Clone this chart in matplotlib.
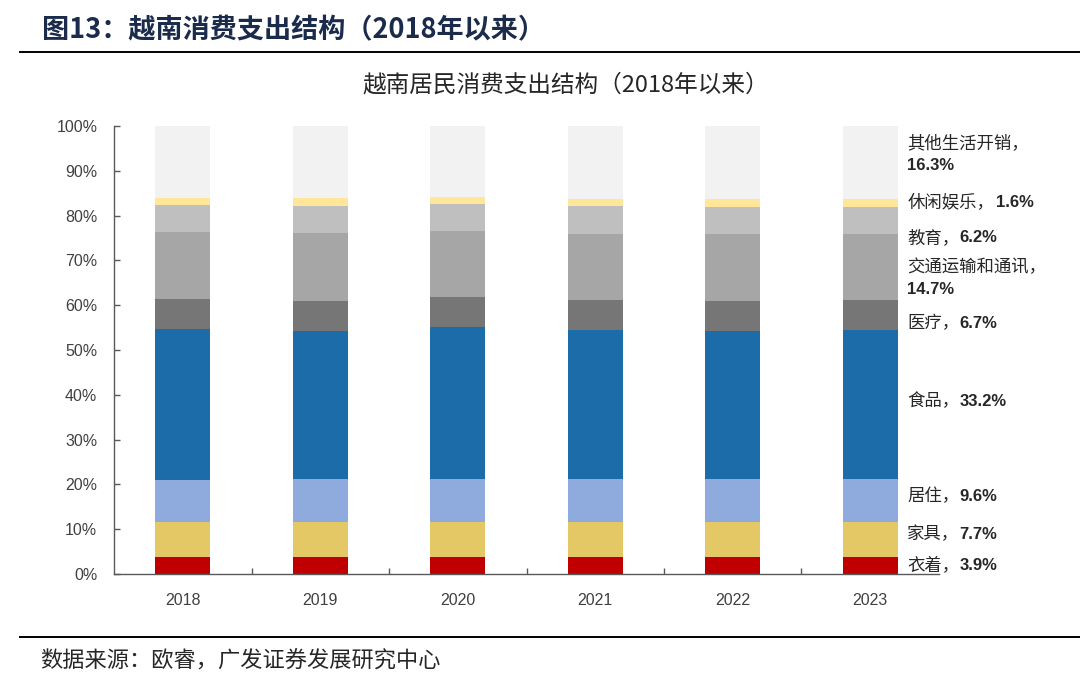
#!/usr/bin/env python3
"""Vietnam household consumption expenditure structure since 2018 (stacked 100% bars)."""

import matplotlib

matplotlib.use("Agg")
import matplotlib.pyplot as plt
import numpy as np
from matplotlib.lines import Line2D
from matplotlib.ticker import FuncFormatter

CJK = ["Noto Sans CJK SC", "DejaVu Sans"]
NUM = ["Liberation Sans", "DejaVu Sans"]

years = ["2018", "2019", "2020", "2021", "2022", "2023"]
categories = ["衣着", "家具", "居住", "食品", "医疗", "交通运输和通讯", "教育", "休闲娱乐", "其他生活开销"]

# shares in %, bottom to top
clothing = [3.8, 3.8, 3.8, 3.8, 3.8, 3.9]
furniture = [7.7, 7.7, 7.7, 7.7, 7.7, 7.7]
housing = [9.5, 9.7, 9.8, 9.7, 9.7, 9.6]
food = [33.6, 33.1, 33.9, 33.3, 33.1, 33.2]
medical = [6.7, 6.7, 6.7, 6.7, 6.7, 6.7]
transport = [15.1, 15.1, 14.7, 14.7, 14.8, 14.7]
education = [6.0, 6.1, 6.0, 6.3, 6.2, 6.2]
leisure = [1.6, 1.7, 1.6, 1.5, 1.6, 1.6]
other = [16.0, 16.1, 15.8, 16.3, 16.4, 16.3]

series = [clothing, furniture, housing, food, medical, transport, education, leisure, other]
colors = ["#C00000", "#E4C866", "#8FAADC", "#1B6CA8", "#767676",
          "#A6A6A6", "#BFBFBF", "#FFE699", "#F2F2F2"]

# label anchors (in %) for the right-hand annotations, and whether they wrap
label_y = [2.0, 8.9, 17.4, 38.6, 56.0, 66.0, 75.0, 83.0, 93.7]
label_wrap = [False, False, False, False, False, True, False, False, True]

fig = plt.figure(figsize=(10.8, 6.91), dpi=100)
ax = fig.add_axes([114 / 1080, 1 - 574 / 691, (939 - 114) / 1080, (574 - 126) / 691])

x = np.arange(len(years))
bottom = np.zeros(len(years))
for vals, c in zip(series, colors):
    v = np.array(vals)
    ax.bar(x, v, width=0.4, bottom=bottom, color=c, edgecolor="none", zorder=2)
    bottom += v

ax.set_xlim(-0.5, len(years) - 0.5)
ax.set_ylim(0, 100)
ax.set_yticks(np.arange(0, 101, 10))
ax.yaxis.set_major_formatter(FuncFormatter(lambda v, _: f"{v:.0f}%"))
ax.set_xticks(x)
ax.set_xticklabels(years)
ax.set_xticks(x[:-1] + 0.5, minor=True)

for side in ["top", "right"]:
    ax.spines[side].set_visible(False)
for side in ["left", "bottom"]:
    ax.spines[side].set_color("#595959")
    ax.spines[side].set_linewidth(1.0)

ax.tick_params(axis="y", direction="in", length=4, width=1.0, color="#595959",
               labelsize=11.5, labelcolor="#404040", pad=12)
ax.tick_params(axis="x", which="major", length=0, labelsize=11.5, labelcolor="#404040", pad=14)
ax.tick_params(axis="x", which="minor", direction="in", length=4, width=1.0, color="#595959")
for lab in ax.get_xticklabels() + ax.get_yticklabels():
    lab.set_family(NUM)

# right-hand labels for the latest year
last = len(years) - 1
char_pt = 13.2
for name, vals, y, wrap in zip(categories, series, label_y, label_wrap):
    cn = f"{name}，"
    num = f"{vals[last]:.1f}%"
    if wrap:
        ax.annotate(cn, (last + 0.27, y + 2.5), xytext=(0, 0), textcoords="offset points",
                    va="center", ha="left", fontsize=12.5, family=CJK, color="#262626",
                    annotation_clip=False)
        ax.annotate(num, (last + 0.27, y - 2.6), xytext=(0, 0), textcoords="offset points",
                    va="center", ha="left", fontsize=12, weight="bold", family=NUM,
                    color="#262626", annotation_clip=False)
    else:
        ax.annotate(cn, (last + 0.27, y), xytext=(0, 0), textcoords="offset points",
                    va="center", ha="left", fontsize=12.5, family=CJK, color="#262626",
                    annotation_clip=False)
        ax.annotate(num, (last + 0.27, y), xytext=(len(cn) * char_pt - 2, 0), textcoords="offset points",
                    va="center", ha="left", fontsize=12, weight="bold", family=NUM,
                    color="#262626", annotation_clip=False)

# chart title
fig.text(566 / 1080, 1 - 85 / 691, "越南居民消费支出结构（2018年以来）", ha="center", va="center",
         fontsize=17, family=CJK, color="#262626")

# report header and footer
fig.text(42 / 1080, 1 - 30 / 691, "图13：越南消费支出结构（2018年以来）", ha="left", va="center",
         fontsize=19.5, weight="bold", family=CJK, color="#1A2B4C")
fig.add_artist(Line2D([20 / 1080, 1.0], [1 - 52 / 691] * 2, color="#000000", linewidth=1.4))
fig.add_artist(Line2D([20 / 1080, 1.0], [1 - 637 / 691] * 2, color="#000000", linewidth=1.4))
fig.text(40 / 1080, 1 - 661 / 691, "数据来源：欧睿，广发证券发展研究中心", ha="left", va="center",
         fontsize=16, family=CJK, color="#262626")

fig.savefig("out.png", dpi=100)
plt.close(fig)
